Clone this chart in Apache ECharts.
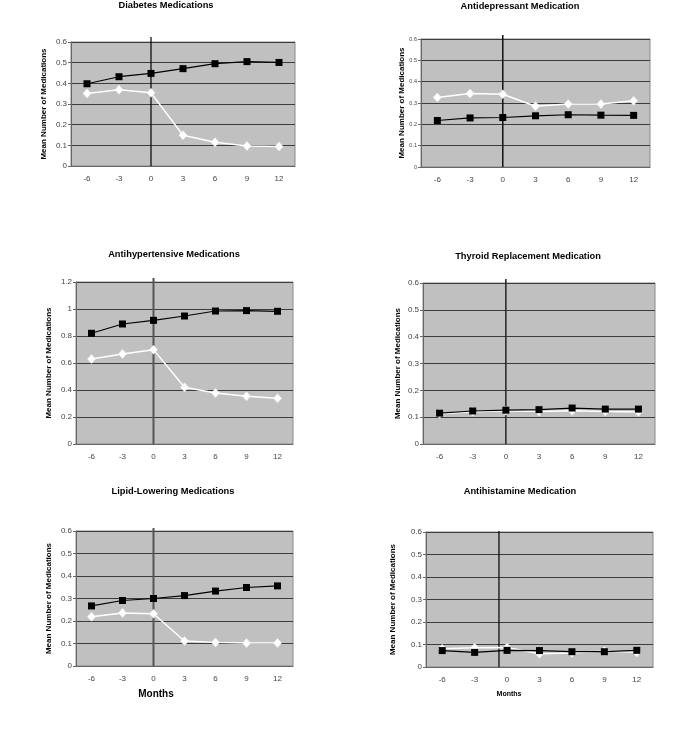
<!DOCTYPE html>
<html>
<head>
<meta charset="utf-8">
<script src="https://cdn.jsdelivr.net/npm/echarts@6/dist/echarts.min.js"></script>
<style>
html,body{margin:0;padding:0;background:#fff;}
#c{width:698px;height:733px;}
</style>
</head>
<body>
<div id="c"></div>
<script>
// ---- data ----
var months = ['-6', '-3', '0', '3', '6', '9', '12'];
var titles = ['Diabetes Medications', 'Antidepressant Medication', 'Antihypertensive Medications',
              'Thyroid Replacement Medication', 'Lipid-Lowering Medications', 'Antihistamine Medication'];
var diabetesBlack = [0.398, 0.432, 0.448, 0.471, 0.495, 0.505, 0.501];
var diabetesWhite = [0.351, 0.369, 0.354, 0.149, 0.115, 0.097, 0.094];
var antidepBlack = [0.218, 0.230, 0.232, 0.240, 0.245, 0.243, 0.242];
var antidepWhite = [0.326, 0.344, 0.341, 0.285, 0.295, 0.295, 0.310];
var antihypBlack = [0.820, 0.889, 0.916, 0.948, 0.985, 0.988, 0.983];
var antihypWhite = [0.630, 0.667, 0.699, 0.420, 0.378, 0.353, 0.338];
var thyroidBlack = [0.115, 0.123, 0.126, 0.128, 0.134, 0.130, 0.130];
var thyroidWhite = [0.113, 0.120, 0.124, 0.121, 0.124, 0.121, 0.119];
var lipidBlack = [0.267, 0.291, 0.300, 0.313, 0.333, 0.349, 0.356];
var lipidWhite = [0.219, 0.236, 0.232, 0.111, 0.105, 0.102, 0.102];
var antihistBlack = [0.073, 0.065, 0.074, 0.073, 0.068, 0.068, 0.074];
var antihistWhite = [0.081, 0.086, 0.087, 0.059, 0.062, 0.071, 0.065];
var yMaxes = [0.6, 0.6, 1.2, 0.6, 0.6, 0.6];
var yIntervals = [0.1, 0.1, 0.2, 0.1, 0.1, 0.1];
var yAxisName = 'Mean Number of Medications';
var xAxisName = 'Months';

var blackSets = [diabetesBlack, antidepBlack, antihypBlack, thyroidBlack, lipidBlack, antihistBlack];
var whiteSets = [diabetesWhite, antidepWhite, antihypWhite, thyroidWhite, lipidWhite, antihistWhite];

// ---- layout / style ----
var panels = [
  {grid:{left:71, top:42, width:224, height:124}, tx:166, ty:6, yFont:8, xFont:8, nameGap:23, vpos:2, vcol:'#000', vw:1.2, vext:5},
  {grid:{left:421, top:39, width:229, height:128}, tx:520, ty:7, yFont:5.5, xFont:8, nameGap:15, vpos:2, vcol:'#111', vw:1.5, vext:4},
  {grid:{left:76, top:282, width:217, height:162}, tx:174, ty:255, yFont:8, xFont:8, nameGap:23, vpos:2, vcol:'#555', vw:2, vext:4},
  {grid:{left:423, top:283, width:232, height:161}, tx:528, ty:257, yFont:8, xFont:8, nameGap:21, vpos:2, vcol:'#222', vw:1.5, vext:4},
  {grid:{left:76, top:531, width:217, height:135}, tx:173, ty:492, yFont:8, xFont:8, nameGap:23, vpos:2, vcol:'#555', vw:2, vext:3},
  {grid:{left:426, top:532, width:227, height:135}, tx:520, ty:492, yFont:8, xFont:8, nameGap:29, vpos:1.75, vcol:'#000', vw:1.2, vext:1}
];

var FONT = '"Liberation Sans", Arial, sans-serif';
var option = {
  backgroundColor: '#fff',
  animation: false,
  title: [], grid: [], xAxis: [], yAxis: [], series: [],
  graphic: []
};

panels.forEach(function (p, i) {
  option.title.push({
    text: titles[i], left: p.tx, top: p.ty - 5, textAlign: 'center', padding: 0,
    textStyle: {fontFamily: FONT, fontSize: 9.3, fontWeight: 'bold', color: '#000'}
  });
  option.grid.push(Object.assign({
    show: true, backgroundColor: '#c0c0c0', borderColor: '#8a8a8a', borderWidth: 1
  }, p.grid));
  option.xAxis.push({
    type: 'category', gridIndex: i, data: months, boundaryGap: true,
    axisLine: {show: true, lineStyle: {color: '#666', width: 1}},
    axisTick: {show: false},
    axisLabel: {fontFamily: FONT, fontSize: p.xFont, color: '#444', margin: 9},
    splitLine: {show: false}
  });
  option.yAxis.push({
    type: 'value', gridIndex: i, min: 0, max: yMaxes[i], interval: yIntervals[i],
    name: yAxisName, nameLocation: 'middle', nameGap: p.nameGap,
    nameTextStyle: {fontFamily: FONT, fontSize: 8, fontWeight: 'bold', color: '#000'},
    axisLine: {show: true, lineStyle: {color: '#666', width: 1}},
    axisTick: {show: true, length: 3, lineStyle: {color: '#666'}},
    axisLabel: {fontFamily: FONT, fontSize: p.yFont, color: '#444', margin: 4,
      formatter: function (v) { return String(+v.toFixed(2)); }},
    splitLine: {show: true, lineStyle: {color: '#3c3c3c', width: 1}}
  });
  option.series.push({
    type: 'line', xAxisIndex: i, yAxisIndex: i, data: whiteSets[i],
    symbol: 'diamond', symbolSize: [8, 9],
    lineStyle: {color: '#fff', width: 1.5},
    itemStyle: {color: '#fff', borderColor: '#f4f4f4', borderWidth: 0.5},
    z: 3
  });
  option.series.push({
    type: 'line', xAxisIndex: i, yAxisIndex: i, data: blackSets[i],
    symbol: 'rect', symbolSize: 7,
    lineStyle: {color: '#000', width: 1.2},
    itemStyle: {color: '#000'},
    z: 4
  });
});

// x-axis names ("Months") for bottom row
option.graphic.push({type:'text', x: 156, y: 694, style:{text: xAxisName, font: 'bold 10px ' + FONT, fill:'#000', textAlign:'center', textVerticalAlign:'middle'}});
option.graphic.push({type:'text', x: 509, y: 694, style:{text: xAxisName, font: 'bold 7px ' + FONT, fill:'#000', textAlign:'center', textVerticalAlign:'middle'}});

var chart = echarts.init(document.getElementById('c'), null, {renderer: 'canvas'});
chart.setOption(option);

// vertical reference lines at month 0 (computed from the axis scale)
var lines = [];
panels.forEach(function (p, i) {
  var lo = Math.floor(p.vpos), hi = Math.ceil(p.vpos);
  var xa = chart.convertToPixel({xAxisIndex: i}, months[lo]);
  var xb = chart.convertToPixel({xAxisIndex: i}, months[hi]);
  var x = xa + (xb - xa) * (p.vpos - lo);
  var yTop = chart.convertToPixel({yAxisIndex: i}, yMaxes[i]) - p.vext;
  var yBot = chart.convertToPixel({yAxisIndex: i}, 0);
  lines.push({type:'line', z: 2, shape:{x1:x, y1:yTop, x2:x, y2:yBot}, style:{stroke:p.vcol, lineWidth:p.vw}});
});
chart.setOption({graphic: option.graphic.concat(lines)});
</script>
</body>
</html>
